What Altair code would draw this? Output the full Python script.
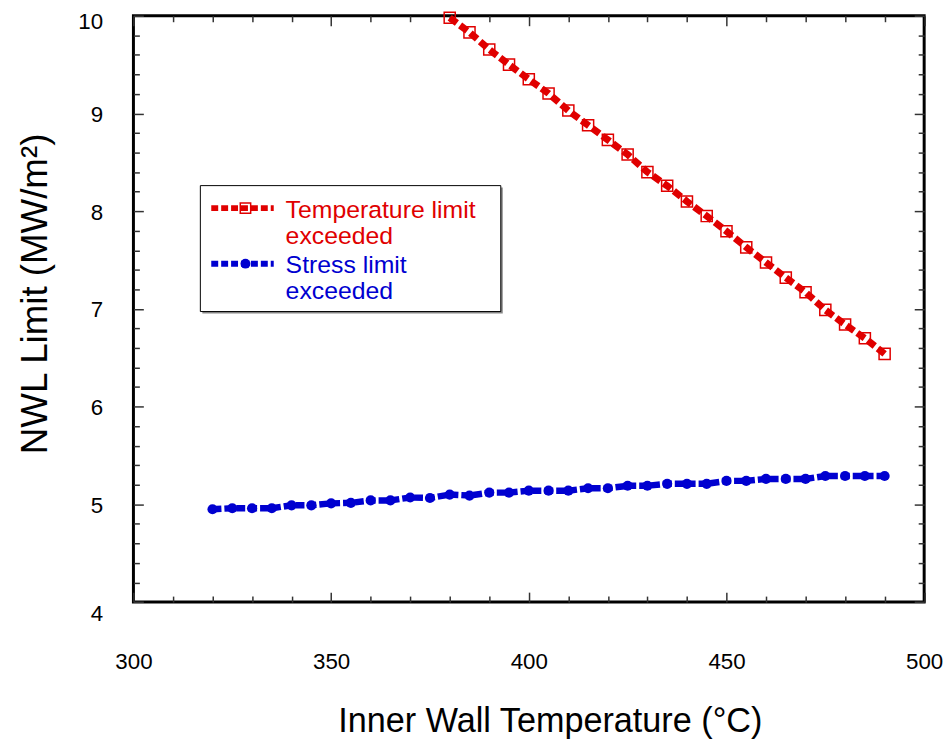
import altair as alt
import pandas as pd

# ---------------- data ----------------
temp_stress = [320, 325, 330, 335, 340, 345, 350, 355, 360, 365, 370, 375, 380, 385,
               390, 395, 400, 405, 410, 415, 420, 425, 430, 435, 440, 445, 450, 455,
               460, 465, 470, 475, 480, 485, 490]
nwl_stress = [4.95, 4.96, 4.96, 4.96, 4.99, 4.99, 5.01, 5.015, 5.04, 5.04, 5.07, 5.065,
              5.10, 5.09, 5.12, 5.12, 5.14, 5.14, 5.14, 5.165, 5.165, 5.19, 5.19, 5.21,
              5.21, 5.21, 5.24, 5.24, 5.26, 5.26, 5.26, 5.29, 5.29, 5.29, 5.29]

temp_temp = [380, 385, 390, 395, 400, 405, 410, 415, 420, 425, 430, 435, 440, 445,
             450, 455, 460, 465, 470, 475, 480, 485, 490]
nwl_temp = [9.98, 9.83, 9.655, 9.50, 9.35, 9.205, 9.03, 8.88, 8.73, 8.58, 8.40, 8.26,
            8.10, 7.95, 7.795, 7.63, 7.475, 7.32, 7.17, 6.99, 6.84, 6.70, 6.54]

x_major = [300, 350, 400, 450, 500]
x_minor = [300, 310, 320, 330, 340, 350, 360, 370, 380, 390, 400, 410, 420, 430, 440,
           450, 460, 470, 480, 490, 500]
y_major = [4, 5, 6, 7, 8, 9, 10]
y_minor = [4.0, 4.2, 4.4, 4.6, 4.8, 5.0, 5.2, 5.4, 5.6, 5.8, 6.0, 6.2, 6.4, 6.6, 6.8,
           7.0, 7.2, 7.4, 7.6, 7.8, 8.0, 8.2, 8.4, 8.6, 8.8, 9.0, 9.2, 9.4, 9.6, 9.8, 10.0]

legend_temp = ["Temperature limit", "exceeded"]
legend_stress = ["Stress limit", "exceeded"]
x_title = "Inner Wall Temperature (°C)"
y_title = "NWL Limit (MW/m²)"

df_temp = pd.DataFrame({"T": temp_temp, "NWL": nwl_temp})
df_stress = pd.DataFrame({"T": temp_stress, "NWL": nwl_stress})

# ---------------- style ----------------
RED = "#e00000"
BLUE = "#0000d0"
W = 797.5
H = 591.3
FONT = "Liberation Sans, Arial, sans-serif"
TICKC = "#333333"

xscale = alt.Scale(domain=[300, 500], nice=False, zero=False)
yscale = alt.Scale(domain=[4, 10], nice=False, zero=False)

x_tick_size = {"condition": {"test": "datum.value % 50 === 0", "value": 10}, "value": 6}
y_tick_size = {"condition": {"test": "datum.value % 1 === 0", "value": 10}, "value": 6}

ax_x_main = alt.Axis(orient="bottom", values=x_major, ticks=False, domain=False, grid=False,
                     format="d", labelFont=FONT, labelFontSize=22.5, labelColor="black",
                     labelPadding=49, labelFlush=False,
                     title=x_title, titleFont=FONT, titleFontSize=34.5,
                     titleFontWeight="normal", titleColor="black", titleX=420, titleY=131,
                     titleBaseline="alphabetic")
ax_x_in_bottom = alt.Axis(orient="top", offset=-H, values=x_minor, ticks=True,
                          tickSize=x_tick_size, tickColor=TICKC, tickWidth=1.5,
                          labels=False, domain=False, grid=False, title=None)
ax_x_in_top = alt.Axis(orient="bottom", offset=-H, values=x_minor, ticks=True,
                       tickSize=x_tick_size, tickColor=TICKC, tickWidth=1.5,
                       labels=False, domain=False, grid=False, title=None)

ax_y_main = alt.Axis(orient="left", values=y_major, ticks=False, domain=False, grid=False,
                     format="d", labelFont=FONT, labelFontSize=22.5, labelColor="black",
                     labelPadding=31, labelFlush=False,
                     labelBaseline={"condition": {"test": "datum.value === 4", "value": "top"},
                                    "value": "middle"},
                     labelOffset={"condition": {"test": "datum.value === 10", "value": 6},
                                  "value": 1},
                     title=y_title, titleFont=FONT, titleFontSize=37, titleFontWeight="normal",
                     titleColor="black", titleX=-88, titleY=280, titleAngle=270,
                     titleBaseline="alphabetic")
ax_y_in_left = alt.Axis(orient="right", offset=-W, values=y_minor, ticks=True,
                        tickSize=y_tick_size, tickColor=TICKC, tickWidth=1.5,
                        labels=False, domain=False, grid=False, title=None)
ax_y_in_right = alt.Axis(orient="left", offset=-W, values=y_minor, ticks=True,
                         tickSize=y_tick_size, tickColor=TICKC, tickWidth=1.5,
                         labels=False, domain=False, grid=False, title=None)

# ---------------- data layers ----------------
red_line = alt.Chart(df_temp).mark_line(color=RED, strokeWidth=7, strokeDash=[9, 4]).encode(
    x=alt.X("T:Q", scale=xscale, axis=ax_x_main),
    y=alt.Y("NWL:Q", scale=yscale, axis=ax_y_main),
)
blue_line = alt.Chart(df_stress).mark_line(color=BLUE, strokeWidth=6.5, strokeDash=[9, 3]).encode(
    x=alt.X("T:Q", scale=xscale, axis=ax_x_in_bottom),
    y=alt.Y("NWL:Q", scale=yscale, axis=ax_y_in_left),
)
red_pts = alt.Chart(df_temp).mark_point(shape="square", filled=False, size=125, color=RED,
                                        strokeWidth=1.5, opacity=1).encode(
    x=alt.X("T:Q", scale=xscale, axis=ax_x_in_top),
    y=alt.Y("NWL:Q", scale=yscale, axis=ax_y_in_right),
)
blue_pts = alt.Chart(df_stress).mark_point(shape="circle", filled=True, size=105, color=BLUE,
                                           opacity=1).encode(
    x=alt.X("T:Q", scale=xscale, axis=None),
    y=alt.Y("NWL:Q", scale=yscale, axis=None),
)

# ---------------- legend ----------------
base = alt.Chart(pd.DataFrame({"k": [0]}))
leg_shadow = base.mark_rect(color="#888888").encode(
    x=alt.value(69.5), x2=alt.value(372.5), y=alt.value(173.3), y2=alt.value(300.3))
leg_box = base.mark_rect(fill="white", stroke="black", strokeWidth=1).encode(
    x=alt.value(67.5), x2=alt.value(370.5), y=alt.value(171.3), y2=alt.value(298.3))
leg_red_line = base.mark_rule(color=RED, strokeWidth=6, strokeDash=[7, 3]).encode(
    x=alt.value(78.5), x2=alt.value(141.5), y=alt.value(194))
leg_red_pt = base.mark_point(shape="square", filled=False, size=110, color=RED,
                             strokeWidth=1.5, opacity=1).encode(
    x=alt.value(113), y=alt.value(194))
leg_blue_line = base.mark_rule(color=BLUE, strokeWidth=6, strokeDash=[7, 3]).encode(
    x=alt.value(78.5), x2=alt.value(141.5), y=alt.value(250))
leg_blue_pt = base.mark_point(shape="circle", filled=True, size=100, color=BLUE,
                              opacity=1).encode(
    x=alt.value(113), y=alt.value(250))
leg_red_txt = base.mark_text(align="left", baseline="alphabetic", font=FONT, fontSize=25,
                             lineHeight=26.5, color=RED).encode(
    x=alt.value(153.5), y=alt.value(203.5), text=alt.value(legend_temp))
leg_blue_txt = base.mark_text(align="left", baseline="alphabetic", font=FONT, fontSize=25,
                              lineHeight=26.5, color=BLUE).encode(
    x=alt.value(153.5), y=alt.value(259.5), text=alt.value(legend_stress))

chart = alt.layer(
    red_line, blue_line, red_pts, blue_pts,
    leg_shadow, leg_box, leg_red_line, leg_red_pt, leg_blue_line, leg_blue_pt,
    leg_red_txt, leg_blue_txt,
).resolve_axis(x="independent", y="independent").properties(
    width=W, height=H,
    autosize=alt.AutoSizeParams(type="none"),
    padding={"left": 126.5, "top": 4.7, "right": 19, "bottom": 138},
    background="white",
).configure_view(stroke="black", strokeWidth=3)

chart.save("out.html", embed_options={"renderer": "svg", "actions": False})
